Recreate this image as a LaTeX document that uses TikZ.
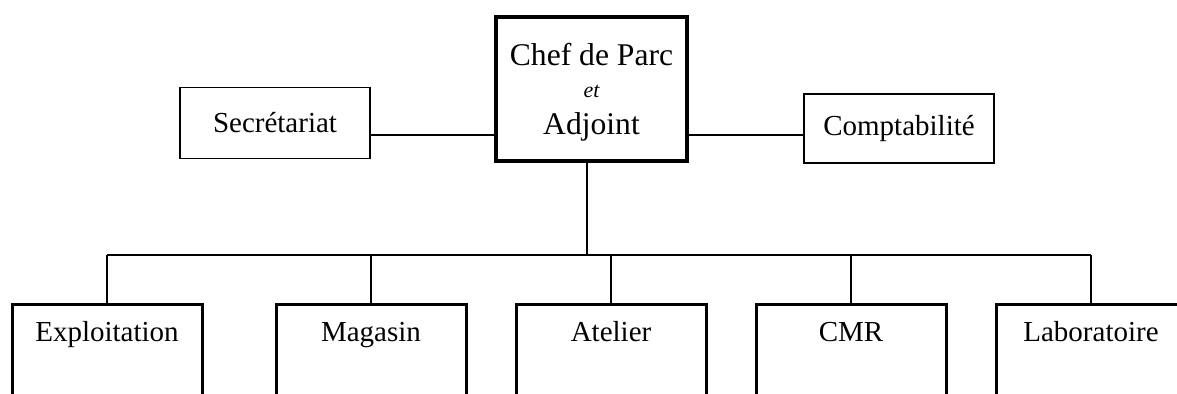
\documentclass[tikz,border=0pt]{standalone}
\usepackage{fontspec}
\setmainfont{Liberation Serif}
\usetikzlibrary{positioning}
\tikzstyle{head} = [rectangle, line width=2pt, draw=black, minimum width=95.5pt, minimum height=72pt, align=center,
font=\fontsize{15.8}{16}\selectfont, text depth=-2.6pt]
\tikzstyle{side} = [rectangle, line width=0.75pt, draw=black, minimum width=95pt, text centered,
font=\fontsize{14.5}{17}\selectfont]
\tikzstyle{service} = [rectangle, line width=1.5pt, draw=black, minimum width=95pt, anchor=north, inner ysep=0pt,
text height=18.5pt, text depth=60pt, text centered, font=\fontsize{14.5}{17}\selectfont]
\tikzstyle{link} = [line width=0.75pt]

\begin{document}
\begin{tikzpicture}[x=0.5pt, y=-0.5pt]
    \clip (0,0) rectangle (1177,394);
    \node(chef)[head] at (591.5,89) {Chef de Parc\\{\fontsize{11}{16}\selectfont\itshape et}\\[2.5pt]Adjoint};
    \node(secretariat)[side, minimum height=35.5pt] at (275,123) {Secrétariat};
    \node(compta)[side, minimum height=34.5pt] at (899,128.5) {Comptabilité};

    \coordinate (hub) at (587,255);
    \node(exploitation)[service] at (107,303) {Exploitation};
    \node(magasin)[service] at (371,303) {Magasin};
    \node(atelier)[service] at (611,303) {Atelier};
    \node(cmr)[service] at (851,303) {CMR};
    \node(laboratoire)[service] at (1091,303) {Laboratoire};

    \draw[link] ([yshift=-6pt]secretariat.east) -- ([yshift=-23pt]chef.west);
    \draw[link] ([yshift=-23pt]chef.east) -- ([yshift=-3.25pt]compta.west);
    \draw[link] (chef.south -| hub) -- (hub);
    \draw[link] (exploitation.north |- hub) -- (laboratoire.north |- hub);
    \draw[link] (exploitation.north |- hub) -- (exploitation.north);
    \draw[link] (magasin.north |- hub) -- (magasin.north);
    \draw[link] (atelier.north |- hub) -- (atelier.north);
    \draw[link] (cmr.north |- hub) -- (cmr.north);
    \draw[link] (laboratoire.north |- hub) -- (laboratoire.north);
\end{tikzpicture}
\end{document}
